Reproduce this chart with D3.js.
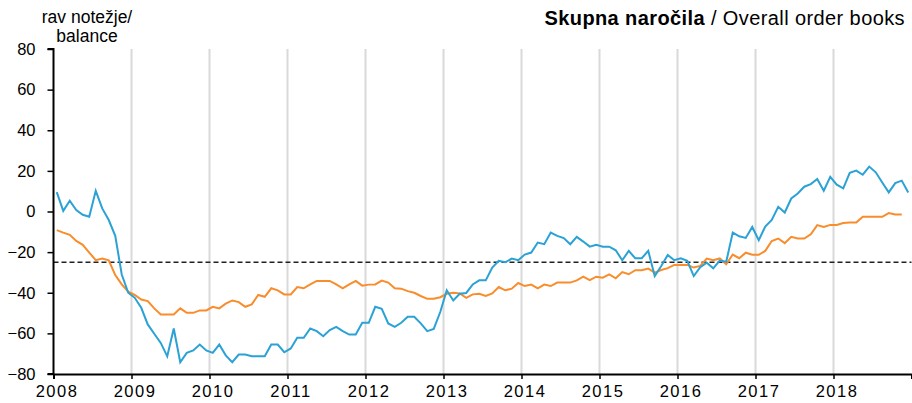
<!DOCTYPE html>
<html>
<head>
<meta charset="utf-8">
<script src="https://cdn.jsdelivr.net/npm/d3@7"></script>
<style>
  body { margin: 0; background: #fff; }
  svg { display: block; font-family: "Liberation Sans", Arial, sans-serif; }
</style>
</head>
<body>
<svg id="chart" width="912" height="403"></svg>
<script>
// monthly balances, Jan 2008 onwards
var startYear = 2008;
var blue = [9.5, 0.3, 5.3, 0.7, -1.6, -2.6, 10.2, 1.5, -4.2, -12, -31, -40,
  -42.5, -47.4, -55.6, -60.2, -64.7, -71.3, -57.6, -74.2, -69.6, -68.4, -65.5, -68.4,
  -69.6, -65.5, -70.8, -74.2, -70.4, -70.4, -71.3, -71.3, -71.3, -65.5, -65.5, -69.3,
  -67.4, -62.2, -62.2, -57.6, -58.9, -61.4, -58.4, -56.8, -58.9, -60.6, -60.6, -54.8,
  -54.8, -46.9, -47.9, -55.1, -56.8, -54.8, -51.8, -51.8, -55.1, -58.9, -57.8, -49.5,
  -38.8, -43.8, -40.5, -40.1, -35.9, -33.9, -33.9, -27.6, -24.3, -25, -23.2, -24,
  -21.2, -20.2, -15.3, -16.1, -10.4, -12, -13.1, -16.1, -12.5, -14.8, -17.3, -16.4,
  -17.3, -17.3, -19.1, -24, -19.4, -23, -23, -19.4, -31.8, -26.8, -21.4, -24,
  -23, -24.3, -31.8, -27.4, -25.2, -28, -24.2, -24.7, -10.4, -12.2, -13, -7.6,
  -14.1, -7.4, -4.2, 2.3, -0.5, 6.4, 8.9, 12.2, 13.5, 16, 10.2, 17.1,
  13.2, 11.4, 19, 20.1, 18.1, 22.1, 19.3, 14.3, 9.4, 14, 15.2, 9.4];
var orange = [-9.2, -10.4, -11.5, -14.5, -16.4, -20.2, -24, -23.2, -24, -31.3, -35.9, -39.5,
  -41.1, -43.3, -44.1, -47.7, -50.7, -50.7, -50.7, -47.7, -49.9, -49.9, -48.7, -48.7,
  -46.9, -47.7, -45.4, -43.8, -44.6, -46.9, -45.7, -41.1, -42, -37.8, -38.8, -40.8,
  -40.8, -37.2, -37.8, -35.9, -34.2, -34.2, -34.2, -35.9, -37.8, -35.9, -34.2, -36.5,
  -36, -35.9, -34, -35, -37.8, -38, -39.2, -40, -41.6, -43, -43, -42.2,
  -40.5, -40, -40.3, -42.5, -40.8, -40.5, -41.6, -40.3, -37.2, -38.8, -38, -35.2,
  -36.7, -36, -37.8, -36, -36.7, -35, -35, -35, -33.9, -32.1, -33.8, -32.1,
  -32.6, -31, -32.9, -29.8, -30.9, -28.9, -28.9, -28.1, -30.1, -28.8, -27.9, -26.3,
  -26.3, -26.3, -27.6, -26.8, -23.2, -24, -23.1, -26, -21.2, -23, -20.3, -21.3,
  -21.3, -19.4, -14.5, -13.3, -15.6, -12.5, -13.3, -13.3, -11.2, -6.7, -7.6, -6.6,
  -6.6, -5.7, -5.4, -5.4, -2.6, -2.6, -2.6, -2.6, -0.8, -1.5, -1.5];
var average = -25;
var yTicks = [-80, -60, -40, -20, 0, 20, 40, 60, 80];
var years = d3.range(2008, 2020);

var svg = d3.select('#chart');
var mLeft = 53.5, mRight = 911.5, mTop = 49, mBottom = 374;

var x = d3.scaleLinear().domain([2008, 2019]).range([mLeft, mRight]);
var y = d3.scaleLinear().domain([-80, 80]).range([mBottom, mTop]);

// year gridlines
svg.append('g').selectAll('line').data(years.slice(1, -1)).enter().append('line')
  .attr('x1', function (d) { return x(d); }).attr('x2', function (d) { return x(d); })
  .attr('y1', mTop).attr('y2', mBottom)
  .attr('stroke', '#d9d9d9').attr('stroke-width', 2);

// long-term average
svg.append('line')
  .attr('x1', mLeft).attr('x2', mRight)
  .attr('y1', y(average)).attr('y2', y(average))
  .attr('stroke', '#222').attr('stroke-width', 1.6)
  .attr('stroke-dasharray', '5,3');

var line = d3.line()
  .x(function (d, i) { return x(startYear + (i + 0.5) / 12); })
  .y(function (d) { return y(d); });

svg.append('path').datum(orange).attr('d', line)
  .attr('fill', 'none').attr('stroke', '#f98c2b').attr('stroke-width', 2);
svg.append('path').datum(blue).attr('d', line)
  .attr('fill', 'none').attr('stroke', '#2aa2d5').attr('stroke-width', 2);

// axes
var yAxis = svg.append('g').attr('transform', 'translate(' + mLeft + ',0)')
  .call(d3.axisLeft(y).tickValues(yTicks).tickSize(6).tickPadding(12));
var xAxis = svg.append('g').attr('transform', 'translate(0,' + mBottom + ')')
  .call(d3.axisBottom(x).tickValues(years).tickSize(5).tickPadding(6)
    .tickFormat(function (d) { return d < 2019 ? d : ''; }));

[yAxis, xAxis].forEach(function (a) {
  a.select('.domain').attr('stroke', '#000').attr('stroke-width', 2);
  a.selectAll('.tick line').attr('stroke', '#000').attr('stroke-width', 1.5);
  a.selectAll('text').attr('fill', '#000').style('font-size', '16.5px')
    .style('font-family', '"Liberation Sans", Arial, sans-serif');
});
xAxis.selectAll('text').attr('dx', 3).style('letter-spacing', '1.5px');
yAxis.select('.domain').attr('d', 'M-6,' + mTop + 'H0V' + mBottom + 'H-6');

// titles
svg.append('text').attr('x', 87).attr('y', 22.5).attr('text-anchor', 'middle')
  .style('font-size', '17.5px').text('rav notežje/');
svg.append('text').attr('x', 87).attr('y', 41.5).attr('text-anchor', 'middle')
  .style('font-size', '17.5px').text('balance');

var title = svg.append('text').attr('x', 905).attr('y', 25).attr('text-anchor', 'end')
  .style('font-size', '20px').style('letter-spacing', '0.4px');
title.append('tspan').style('font-weight', 'bold').text('Skupna naročila');
title.append('tspan').text(' / Overall order books');
</script>
</body>
</html>
